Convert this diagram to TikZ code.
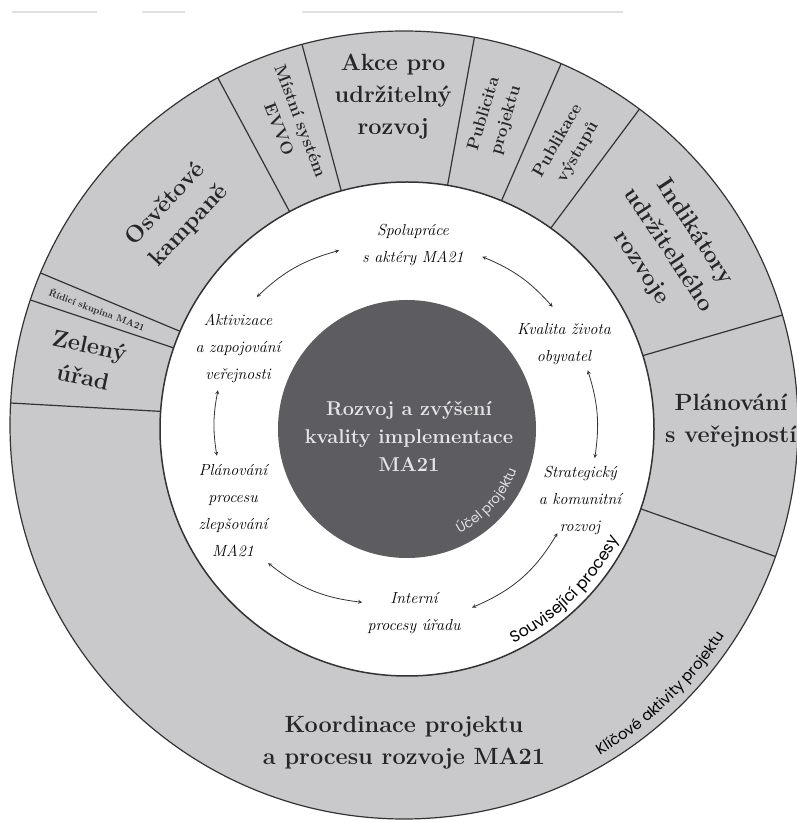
\documentclass[tikz,border=0pt]{standalone}
\usepackage{fontspec}
\setsansfont{Poppins}
\usepackage{tikz}
\usetikzlibrary{decorations.text}

\definecolor{ringgray}{RGB}{201,201,203}
\definecolor{coregray}{RGB}{93,92,96}

\begin{document}
\begin{tikzpicture}[x=1pt, y=1pt,
		ringtext/.style={font=\bfseries\fontsize{23.5}{32}\selectfont, align=center, text=black!85},
		ringsmall/.style={font=\bfseries\fontsize{17}{23}\selectfont, align=center, text=black!85},
		looptext/.style={font=\itshape\fontsize{16}{27}\selectfont, align=center},
		looparrow/.style={stealth-stealth, black!80, line width=0.8}]
		\useasboundingbox (0,0) rectangle (797,823);
		\draw[black!12, line width=1.5] (12,811) -- (97,811);
		\draw[black!12, line width=1.5] (142,811) -- (185,811);
		\draw[black!12, line width=1.5] (302,811) -- (623,811);
		% outer ring of activities
		\begin{scope}[shift={(404,398)}]
			\fill[ringgray] (0,0) circle (394);
			\foreach \a in {-19.5,16.2,53.3,66.5,79.7,105,118.2,157.3,161.5,176.8}
				\draw[black!80, line width=1.2] (0,0) -- (\a:394);
			\draw[black!80, line width=1.2] (0,0) circle (394);
		\end{scope}
		\begin{scope}[shift={(407,394)}]
			\draw[black!80, line width=1.5, fill=white] (0,0) circle (247);
			\fill[coregray] (0,0) circle (129);
		\end{scope}
		% labels in the ring
		\begin{scope}[shift={(404,398)}]
			\node[ringtext] (akce) at (91.9:329) {Akce pro\\udržitelný\\rozvoj};
			\node[ringsmall, rotate=-69] (evvo) at (110.8:321) {Místní systém\\EVVO};
			\node[ringtext, rotate=47] (osvet) at (137.2:309) {Osvětové\\kampaně};
			\node[font=\bfseries\fontsize{9.5}{10}\selectfont, text=black!85, rotate=-20.5] (ridici) at (159.5:328) {Řídicí skupina MA21};
			\node[ringtext, rotate=-12] (zeleny) at (168.6:324) {Zelený\\úřad};
			\node[ringsmall, rotate=73.5] (publ) at (73.5:321) {Publicita\\projektu};
			\node[ringsmall, rotate=60] (publik) at (59.5:323) {Publikace\\výstupů};
			\node[ringtext, rotate=-56.5] (indik) at (33.5:317) {Indikátory\\udržitelného\\rozvoje};
			\node[ringtext] (plan) at (0.7:327) {Plánování\\s veřejností};
			\node[ringtext] (koord) at (-90:318) {Koordinace projektu\\a procesu rozvoje MA21};
			\path[decorate, decoration={text along path, text align=center,
				text={|\sffamily\fontsize{15}{15}\selectfont|Klíčové aktivity projektu}}]
				(-80:384) arc[start angle=-80, end angle=-12.6, radius=384];
		\end{scope}
		% core and the cycle around it
		\begin{scope}[shift={(407,394)}]
			\node[font=\bfseries\fontsize{20}{28}\selectfont, align=center, text=white!90!black] (core) at (2,-7) {Rozvoj a zvýšení\\kvality implementace\\MA21};
			\path[decorate, decoration={text along path, text align=center, text color=white!88!black,
				text={|\sffamily\fontsize{13.5}{14}\selectfont|Účel projektu}}]
				(-80:117) arc[start angle=-80, end angle=-4, radius=117];
			\path[decorate, decoration={text along path, text align=center,
				text={|\sffamily\fontsize{16}{16}\selectfont|Související procesy}}]
				(-80:239) arc[start angle=-80, end angle=-11, radius=239];
			\node[looptext] (spolu) at (6,184) {Spolupráce\\s aktéry MA21};
			\node[looptext] (kval) at (157,85) {Kvalita života\\obyvatel};
			\node[looptext] (strat) at (173,-72) {Strategický\\a komunitní\\rozvoj};
			\node[looptext] (inter) at (7,-184) {Interní\\procesy úřadu};
			\node[looptext] (plproc) at (-174,-82) {Plánování\\procesu\\zlepšování\\MA21};
			\node[looptext] (aktiv) at (-169,81) {Aktivizace\\a zapojování\\veřejnosti};
			\coordinate (aktivN) at (138.7:200);
			\coordinate (spoluW) at (110.8:191);
			\coordinate (spoluE) at (66.4:188);
			\coordinate (kvalN) at (40:190);
			\coordinate (kvalS) at (18:190);
			\coordinate (stratN) at (-8.8:190);
			\coordinate (stratS) at (-34.7:183);
			\coordinate (interE) at (-70:190);
			\coordinate (interW) at (-104.5:179);
			\coordinate (plprocS) at (-136:193);
			\coordinate (plprocN) at (188:192);
			\coordinate (aktivS) at (168.4:193);
			\draw[looparrow] (aktivN) to[bend left=14] (spoluW);
			\draw[looparrow] (spoluE) to[bend left=13] (kvalN);
			\draw[looparrow] (kvalS) to[bend left=13] (stratN);
			\draw[looparrow] (stratS) to[bend left=18] (interE);
			\draw[looparrow] (interW) to[bend left=16] (plprocS);
			\draw[looparrow] (plprocN) to[bend left=10] (aktivS);
		\end{scope}
\end{tikzpicture}
\end{document}
